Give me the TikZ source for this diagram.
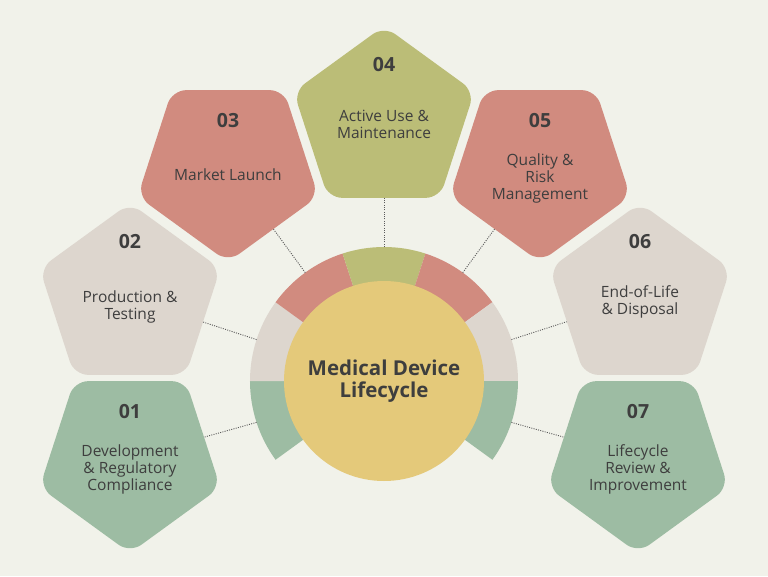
\documentclass[tikz,border=0pt]{standalone}
\usepackage{fontspec}
\setmainfont{Open Sans}
\usetikzlibrary{shapes.geometric}

\definecolor{bgcol}{HTML}{F1F2EA}
\definecolor{sage}{HTML}{9DBCA3}
\definecolor{sand}{HTML}{DDD6CE}
\definecolor{clay}{HTML}{D18B7F}
\definecolor{olive}{HTML}{BBBD77}
\definecolor{corn}{HTML}{E4C97A}
\definecolor{ink}{HTML}{3E3E3E}
\definecolor{dotcol}{HTML}{5A5A5A}

\begin{document}
\begin{tikzpicture}[x = 1pt, y = 1pt,
                      pent/.style = {regular polygon, regular polygon sides = 5, minimum size = 190pt,
                                     inner sep = 0pt, rounded corners = 14pt},
                      flip/.style = {shape border rotate = 180},
                      num/.style = {font = \fontsize{19.5}{22}\selectfont\bfseries, text = ink},
                      txt/.style = {font = \fontsize{15.5}{17}\selectfont, text = ink, align = center},
                      link/.style = {draw = dotcol, line width = 0.9pt, dash pattern = on 1pt off 1.3pt}]
    \fill [bgcol] (-384, -195) rectangle (384, 381);

    % ring round the centre
    \fill [sage]  (0, 0) -- (216:134pt) arc [start angle = 216, end angle = 180, radius = 134pt] -- cycle;
    \fill [sand]  (0, 0) -- (180:134pt) arc [start angle = 180, end angle = 144, radius = 134pt] -- cycle;
    \fill [clay]  (0, 0) -- (144:134pt) arc [start angle = 144, end angle = 108, radius = 134pt] -- cycle;
    \fill [olive] (0, 0) -- (108:134pt) arc [start angle = 108, end angle = 72, radius = 134pt] -- cycle;
    \fill [clay]  (0, 0) -- (72:134pt) arc [start angle = 72, end angle = 36, radius = 134pt] -- cycle;
    \fill [sand]  (0, 0) -- (36:134pt) arc [start angle = 36, end angle = 0, radius = 134pt] -- cycle;
    \fill [sage]  (0, 0) -- (0:134pt) arc [start angle = 0, end angle = -36, radius = 134pt] -- cycle;

    \node [circle, fill = corn, minimum size = 200pt, inner sep = 0pt, text = ink, align = center,
           font = \fontsize{20.5}{22.5}\selectfont\bfseries] (core) at (0, 0) {Medical Device\\Lifecycle};

    \coordinate (e1) at (198:134pt);
    \coordinate (e2) at (162:134pt);
    \coordinate (e3) at (126:134pt);
    \coordinate (e4) at (90:134pt);
    \coordinate (e5) at (54:134pt);
    \coordinate (e6) at (18:134pt);
    \coordinate (e7) at (-18:134pt);

    % stages
    \node [pent, flip, fill = sage] (p1) at (-254, -77){};
    \node [pent, fill = sand]       (p2) at (-254, 83){};
    \node [pent, flip, fill = clay] (p3) at (-156, 214){};
    \node [pent, fill = olive]      (p4) at (0, 260){};
    \node [pent, flip, fill = clay] (p5) at (156, 214){};
    \node [pent, fill = sand]       (p6) at (256, 83){};
    \node [pent, flip, fill = sage] (p7) at (254, -77){};

    \node [num] (n1) at ([yshift = 46pt]p1.center) {01};
    \node [num] (n2) at ([yshift = 56pt]p2.center) {02};
    \node [num] (n3) at ([yshift = 46pt]p3.center) {03};
    \node [num] (n4) at ([yshift = 56pt]p4.center) {04};
    \node [num] (n5) at ([yshift = 46pt]p5.center) {05};
    \node [num] (n6) at ([yshift = 56pt]p6.center) {06};
    \node [num] (n7) at ([yshift = 46pt]p7.center) {07};

    \node [txt] (t1) at ([yshift = -11pt]p1.center) {Development\\\& Regulatory\\Compliance};
    \node [txt] (t2) at ([yshift = -9pt]p2.center) {Production \&\\Testing};
    \node [txt] (t3) at ([yshift = -8pt]p3.center) {Market Launch};
    \node [txt] (t4) at ([yshift = -3pt]p4.center) {Active Use \&\\Maintenance};
    \node [txt] (t5) at ([yshift = -11pt]p5.center) {Quality \&\\Risk\\Management};
    \node [txt] (t6) at ([yshift = -4pt]p6.center) {End-of-Life\\\& Disposal};
    \node [txt] (t7) at ([yshift = -11pt]p7.center) {Lifecycle\\Review \&\\Improvement};

    \draw [link] (e1) -- (p1);
    \draw [link] (e2) -- (p2);
    \draw [link] (e3) -- (p3);
    \draw [link] (e4) -- (p4);
    \draw [link] (e5) -- (p5);
    \draw [link] (e6) -- (p6);
    \draw [link] (e7) -- (p7);
    \end{tikzpicture}
\end{document}
